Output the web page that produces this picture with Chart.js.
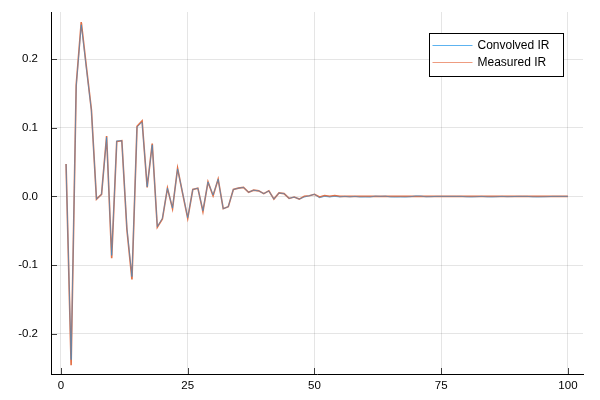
<!DOCTYPE html>
<html>
<head>
<meta charset="utf-8">
<script src="https://cdn.jsdelivr.net/npm/chart.js@4/dist/chart.umd.min.js"></script>
<style>
  html, body { margin: 0; padding: 0; background: #fff; }
  canvas { display: block; }
</style>
</head>
<body>
<canvas id="c" width="600" height="400"></canvas>
<script>
const xValues = [1,2,3,4,5,6,7,8,9,10,11,12,13,14,15,16,17,18,19,20,
  21,22,23,24,25,26,27,28,29,30,31,32,33,34,35,36,37,38,39,40,
  41,42,43,44,45,46,47,48,49,50,51,52,53,54,55,56,57,58,59,60,
  61,62,63,64,65,66,67,68,69,70,71,72,73,74,75,76,77,78,79,80,
  81,82,83,84,85,86,87,88,89,90,91,92,93,94,95,96,97,98,99,100];

const convolvedIR = [0.047,-0.238,0.160,0.250,0.187,0.125,-0.004,0.003,0.086,-0.086,
  0.081,0.081,-0.046,-0.117,0.101,0.108,0.014,0.075,-0.044,-0.032,
  0.012,-0.017,0.040,0.005,-0.031,0.010,0.012,-0.021,0.021,0.002,
  0.025,-0.018,-0.015,0.010,0.012,0.013,0.006,0.009,0.008,0.004,
  0.008,-0.004,0.005,0.004,-0.003,-0.001,-0.004,-0.001,0.001,0.003,
  -0.002,0.000,-0.001,0.000,-0.001,0.000,-0.001,0.000,-0.0012,-0.001,
  -0.0012,0.0005,0.000,0.0005,-0.001,-0.0012,-0.001,-0.0012,-0.0005,0.0008,
  0.0006,-0.0008,-0.0006,0.000,0.000,0.000,0.000,0.000,0.000,-0.0008,
  -0.001,-0.0006,0.000,-0.0008,-0.001,-0.0006,0.000,-0.0006,-0.0004,0.000,
  0.000,0.000,-0.0008,-0.001,-0.0008,-0.0005,0.000,0.000,0.000,0.000];

const measuredIR = [0.047,-0.246,0.162,0.254,0.189,0.126,-0.004,0.003,0.088,-0.090,
  0.080,0.081,-0.048,-0.121,0.102,0.110,0.013,0.077,-0.045,-0.033,
  0.012,-0.018,0.041,0.004,-0.032,0.010,0.012,-0.022,0.021,0.001,
  0.025,-0.018,-0.015,0.010,0.012,0.013,0.006,0.009,0.008,0.004,
  0.008,-0.004,0.005,0.004,-0.003,-0.001,-0.004,0.000,0.001,0.003,
  -0.001,0.001,0.000,0.001,0.000,0.000,0.000,0.000,0.000,0.000,
  0.000,0.000,0.000,0.000,0.000,0.000,0.000,0.000,0.000,0.000,
  0.000,0.000,0.000,0.000,0.000,0.000,0.000,0.000,0.000,0.000,
  0.000,0.000,0.000,0.000,0.000,0.000,0.000,0.000,0.000,0.000,
  0.000,0.000,0.000,0.000,0.000,0.000,0.000,0.000,0.000,0.000];

const seriesNames = ['Convolved IR', 'Measured IR'];
const xTickValues = [0, 25, 50, 75, 100];
const xTickLabels = ['0', '25', '50', '75', '100'];
const yTickValues = [-0.2, -0.1, 0.0, 0.1, 0.2];
const yTickLabels = ['-0.2', '-0.1', '0.0', '0.1', '0.2'];

const FONT = '"Liberation Sans", Arial, sans-serif';

const innerTicks = {
  id: 'innerTicks',
  afterDraw(chart) {
    const ctx = chart.ctx, a = chart.chartArea;
    const xs = chart.scales.x, ys = chart.scales.y;
    ctx.save();
    ctx.strokeStyle = 'rgba(0,0,0,0.75)';
    ctx.lineWidth = 1;
    ctx.beginPath();
    xTickValues.forEach(v => {
      const px = Math.round(xs.getPixelForValue(v)) + 0.5;
      ctx.moveTo(px, a.bottom);
      ctx.lineTo(px, a.bottom - 6);
    });
    yTickValues.forEach(v => {
      const py = Math.round(ys.getPixelForValue(v)) + 0.5;
      ctx.moveTo(a.left, py);
      ctx.lineTo(a.left + 6, py);
    });
    ctx.stroke();
    ctx.restore();
  }
};

const boxLegend = {
  id: 'boxLegend',
  afterDraw(chart) {
    const ctx = chart.ctx, a = chart.chartArea;
    const ds = chart.data.datasets;
    const right = Math.round(a.right) - 19.5, top = Math.round(a.top) + 21.5;
    const w = 134, h = 43;
    const left = right - w;
    ctx.save();
    ctx.fillStyle = '#fff';
    ctx.fillRect(left, top, w, h);
    ctx.strokeStyle = '#000';
    ctx.lineWidth = 1;
    ctx.strokeRect(left, top, w, h);
    ctx.font = '12px ' + FONT;
    ctx.textBaseline = 'middle';
    ctx.textAlign = 'left';
    const colors = ['#5DB3F0', '#EE9C80'];
    ds.forEach((d, i) => {
      const y = top + 12 + i * 17;
      ctx.strokeStyle = colors[i];
      ctx.lineWidth = 1.2;
      ctx.beginPath();
      ctx.moveTo(left + 3, y);
      ctx.lineTo(left + 43, y);
      ctx.stroke();
      ctx.fillStyle = '#000';
      ctx.fillText(d.label, left + 48, y + 0.5);
    });
    ctx.restore();
  }
};

new Chart(document.getElementById('c'), {
  type: 'line',
  data: {
    labels: xValues,
    datasets: [
      { label: seriesNames[0], data: convolvedIR, borderColor: 'rgba(0,154,250,0.5)',
        borderWidth: 1, pointRadius: 0, tension: 0, fill: false, order: 0 },
      { label: seriesNames[1], data: measuredIR, borderColor: '#E26F46',
        borderWidth: 1.6, pointRadius: 0, tension: 0, fill: false, order: 1 }
    ]
  },
  options: {
    responsive: false,
    animation: false,
    layout: { padding: { top: 12, right: 17, left: 0, bottom: 0 } },
    plugins: { legend: { display: false }, tooltip: { enabled: false } },
    scales: {
      x: {
        type: 'linear', min: -1.97, max: 102.97,
        afterBuildTicks: s => { s.ticks = xTickValues.map(v => ({ value: v })); },
        afterFit: s => { s.height = 26; },
        ticks: {
          color: '#000', font: { family: FONT, size: 11.5 }, padding: 5,
          maxRotation: 0, autoSkip: false,
          callback: v => xTickLabels[xTickValues.indexOf(v)]
        },
        grid: { color: 'rgba(0,0,0,0.1)', drawTicks: false, lineWidth: 1 },
        border: { color: '#000', width: 1 }
      },
      y: {
        type: 'linear', min: -0.2588, max: 0.2686,
        afterBuildTicks: s => { s.ticks = yTickValues.map(v => ({ value: v })); },
        afterFit: s => { s.width = 51; },
        ticks: {
          color: '#000', font: { family: FONT, size: 11.5 }, padding: 2,
          autoSkip: false,
          callback: v => yTickLabels[yTickValues.findIndex(t => Math.abs(t - v) < 1e-9)]
        },
        grid: { color: 'rgba(0,0,0,0.1)', drawTicks: true, tickLength: 11,
                tickColor: 'rgba(0,0,0,0)', lineWidth: 1 },
        border: { color: '#000', width: 1 }
      }
    }
  },
  plugins: [innerTicks, boxLegend]
});
</script>
</body>
</html>
